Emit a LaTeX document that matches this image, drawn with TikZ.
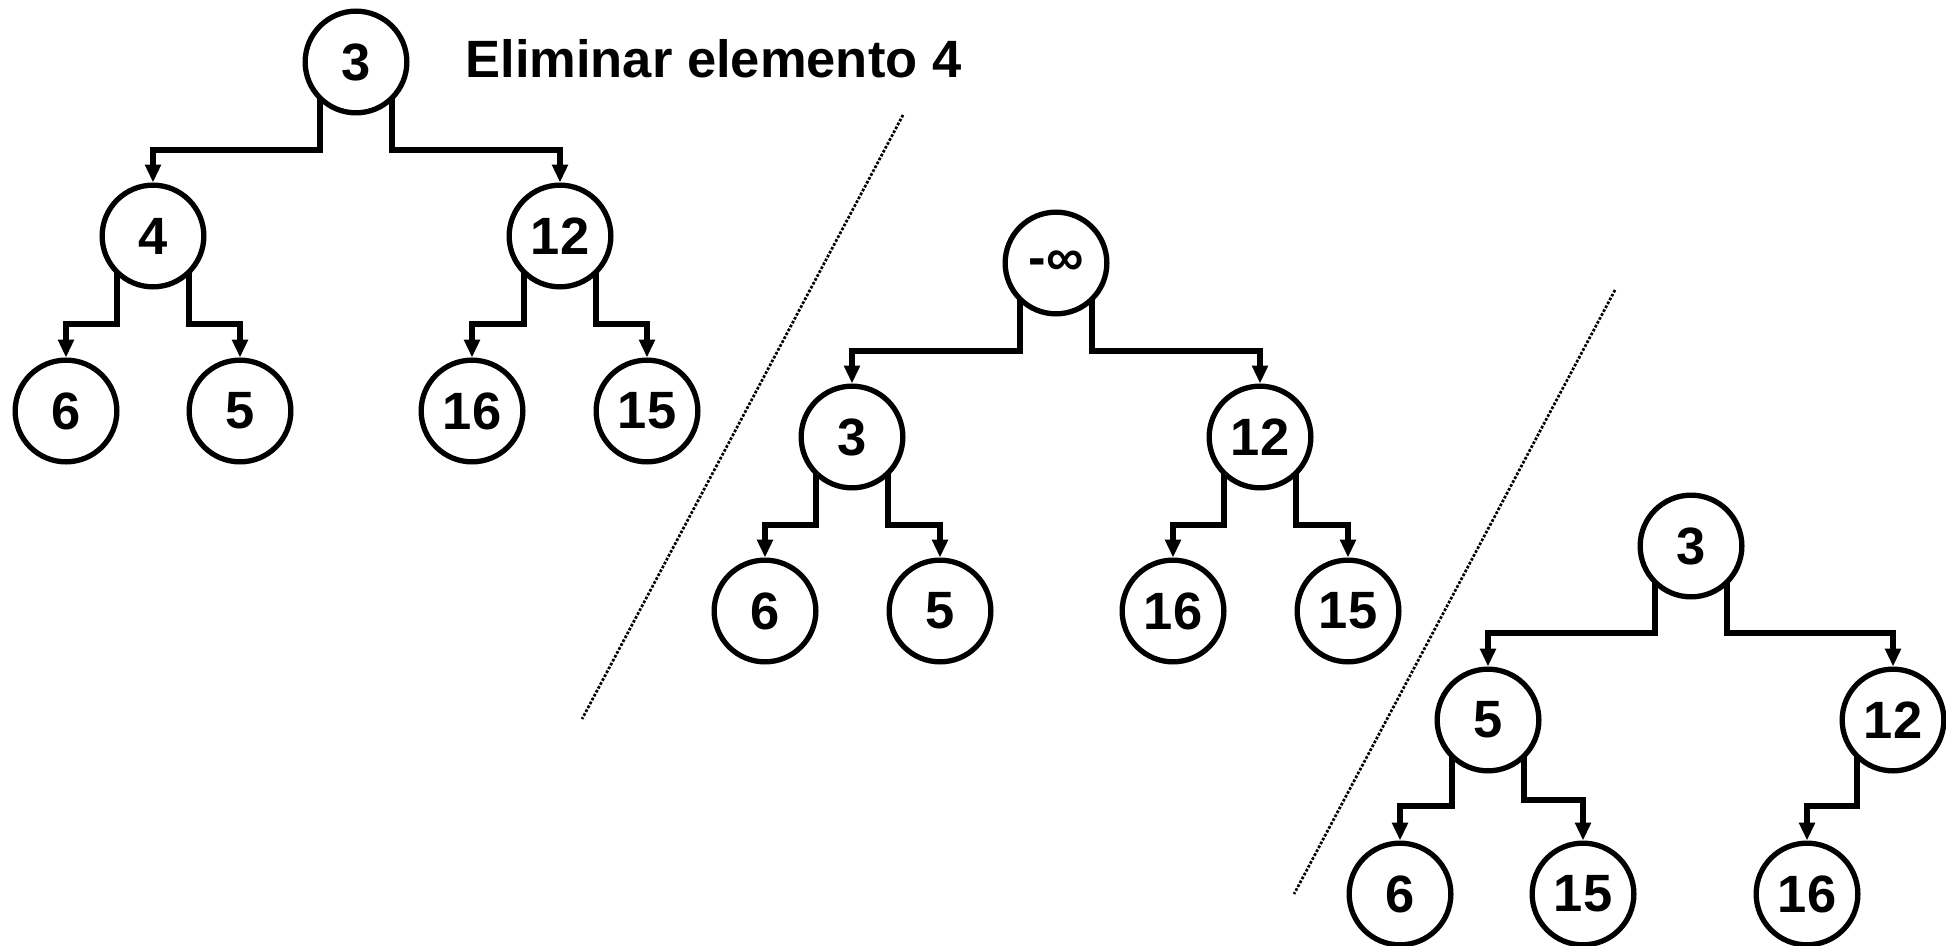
\documentclass[tikz,border=0pt]{standalone}
\usepackage{fontspec}
\setmainfont{Liberation Sans}
\usetikzlibrary{arrows.meta,calc}
\newcommand\mylink[4]{\draw[conn] ($(#1)+(#2,36)$) -- ($(#1)+(#2,#3)$) -| (#4.north);}
\begin{document}
\begin{tikzpicture}[x=0.5pt,y=-0.5pt,
  nd/.style={circle,draw=black,line width=2.65pt,minimum size=50.85pt,inner sep=0pt,
    font=\fontsize{26.25pt}{30pt}\selectfont\bfseries},
  conn/.style={line width=2.65pt,-{Triangle[length=8.9pt,width=7.6pt]}},
  sepline/.style={line width=1.35pt,dash pattern=on 1.35pt off 0.85pt},
  ttl/.style={anchor=base west,inner sep=0pt,font=\fontsize{26.25pt}{30pt}\selectfont\bfseries}]
\useasboundingbox (0,0) rectangle (1946,946);

% title
\node[ttl] (title) at (465,78) {Eliminar elemento 4};

% tree 1
\node[nd] (a0) at (356,62) {3};
\node[nd] (a1) at (153,236) {4};
\node[nd] (a2) at (560,236) {12};
\node[nd] (a3) at (66,411) {6};
\node[nd] (a4) at (240,411) {5};
\node[nd] (a5) at (472,411) {16};
\node[nd] (a6) at (647,411) {15};
\mylink{a0}{-36}{88}{a1}
\mylink{a0}{36}{88}{a2}
\mylink{a1}{-36}{88}{a3}
\mylink{a1}{36}{88}{a4}
\mylink{a2}{-36}{88}{a5}
\mylink{a2}{36}{88}{a6}

% tree 2
\node[nd] (b0) at (1056,263) {-∞};
\node[nd] (b1) at (852,437) {3};
\node[nd] (b2) at (1260,437) {12};
\node[nd] (b3) at (765,611) {6};
\node[nd] (b4) at (940,611) {5};
\node[nd] (b5) at (1173,611) {16};
\node[nd] (b6) at (1348,611) {15};
\mylink{b0}{-36}{88}{b1}
\mylink{b0}{36}{88}{b2}
\mylink{b1}{-36}{88}{b3}
\mylink{b1}{36}{88}{b4}
\mylink{b2}{-36}{88}{b5}
\mylink{b2}{36}{88}{b6}

% tree 3
\node[nd] (c0) at (1691,546) {3};
\node[nd] (c1) at (1488,720) {5};
\node[nd] (c2) at (1893,720) {12};
\node[nd] (c3) at (1400,894) {6};
\node[nd] (c4) at (1583,894) {15};
\node[nd] (c5) at (1807,894) {16};
\mylink{c0}{-36}{87}{c1}
\mylink{c0}{36}{87}{c2}
\mylink{c1}{-36}{86}{c3}
\mylink{c1}{36}{80}{c4}
\mylink{c2}{-36}{86}{c5}

% separators
\coordinate (d1a) at (903,115);
\coordinate (d1b) at (582,719);
\coordinate (d2a) at (1615,290);
\coordinate (d2b) at (1294,894);
\draw[sepline] (d1a) -- (d1b);
\draw[sepline] (d2a) -- (d2b);
\end{tikzpicture}
\end{document}
